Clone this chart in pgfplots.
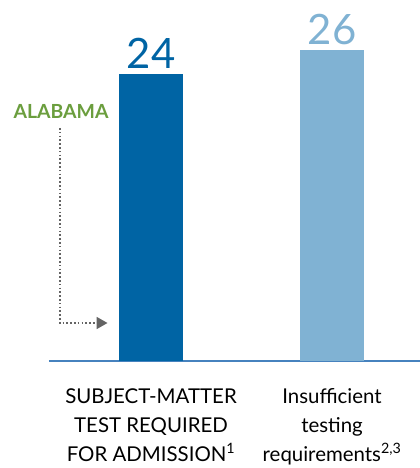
\documentclass[border=0pt]{standalone}
\usepackage{fontspec}
\setmainfont{Lato}
\usepackage{pgfplots}
\pgfplotsset{compat=1.18}
\usetikzlibrary{arrows.meta}
\definecolor{dblue}{RGB}{0,100,164}
\definecolor{lblue}{RGB}{128,178,211}
\definecolor{agreen}{RGB}{107,158,62}
\definecolor{lineblue}{RGB}{70,130,190}
\definecolor{arrgray}{RGB}{100,100,100}
\begin{document}
\begin{tikzpicture}
\useasboundingbox (-49bp,-107bp) rectangle (371bp,361bp);
\begin{axis}[
  at={(0,0)}, anchor=south west,
  scale only axis, width=371bp, height=358.5bp,
  ymin=0, ymax=30, xmin=-0.5635, xmax=1.486,
  axis x line=bottom, axis y line=none,
  x axis line style={lineblue, line width=1.2bp, -},
  xtick={0,1},
  xticklabels={{SUBJECT-MATTER\\TEST REQUIRED\\FOR ADMISSION\textsuperscript{1}},{Insufficient\\testing\\requirements\textsuperscript{2,3}}},
  major tick length=0pt,
  xticklabel style={align=center, font=\fontsize{20.5}{29}\selectfont, text=black, yshift=-24bp},
  ybar, bar width=64bp, bar shift=0pt,
  clip=false,
  /pgf/number format/assume math mode=true,
  nodes near coords,
  nodes near coords style={font=\fontsize{42}{42}\selectfont, anchor=base, yshift=6bp},
]
\addplot[fill=dblue, draw=none, nodes near coords style={text=dblue}] coordinates {(0,24)};
\addplot[fill=lblue, draw=none, nodes near coords style={text=lblue}] coordinates {(1,26)};
\node[text=agreen, font=\bfseries\fontsize{19.5}{19.5}\selectfont] at (axis cs:-0.497,20.9) {ALABAMA};
\draw[arrgray, line width=1.8bp, dash pattern=on 1.6bp off 2.2bp, -{Triangle[length=11bp,width=12bp]}] (axis cs:-0.503,19.5) |- (axis cs:-0.24,3.18);
\end{axis}
\end{tikzpicture}
\end{document}
